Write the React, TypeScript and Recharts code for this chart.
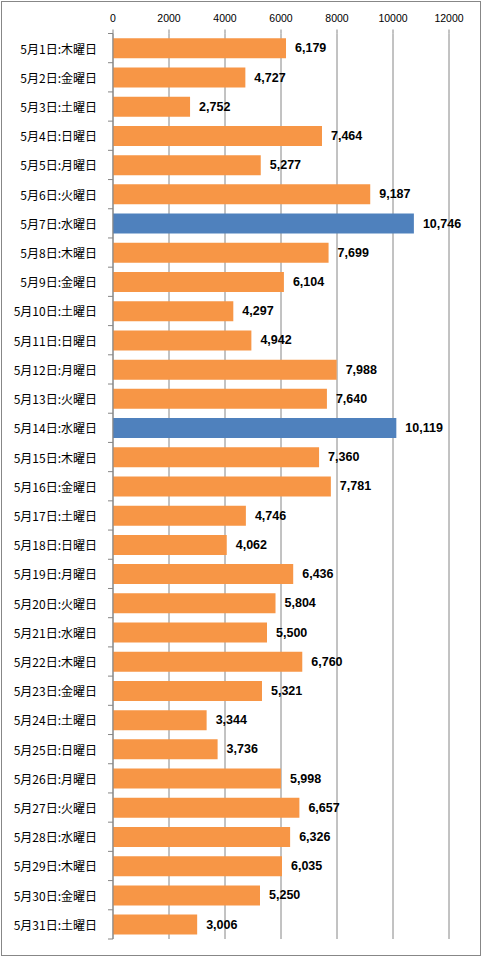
import React from 'react';
import { BarChart, Bar, XAxis, YAxis, CartesianGrid, Cell, LabelList } from 'recharts';

// 5月の日別件数
const days = [
    '5月1日:木曜日', '5月2日:金曜日', '5月3日:土曜日', '5月4日:日曜日', '5月5日:月曜日',
    '5月6日:火曜日', '5月7日:水曜日', '5月8日:木曜日', '5月9日:金曜日', '5月10日:土曜日',
    '5月11日:日曜日', '5月12日:月曜日', '5月13日:火曜日', '5月14日:水曜日', '5月15日:木曜日',
    '5月16日:金曜日', '5月17日:土曜日', '5月18日:日曜日', '5月19日:月曜日', '5月20日:火曜日',
    '5月21日:水曜日', '5月22日:木曜日', '5月23日:金曜日', '5月24日:土曜日', '5月25日:日曜日',
    '5月26日:月曜日', '5月27日:火曜日', '5月28日:水曜日', '5月29日:木曜日', '5月30日:金曜日',
    '5月31日:土曜日',
];

const counts = [
    6179, 4727, 2752, 7464, 5277, 9187, 10746, 7699, 6104, 4297,
    4942, 7988, 7640, 10119, 7360, 7781, 4746, 4062, 6436, 5804,
    5500, 6760, 5321, 3344, 3736, 5998, 6657, 6326, 6035, 5250,
    3006,
];

const highlightDays = ['5月7日:水曜日', '5月14日:水曜日'];

const xTicks = [0, 2000, 4000, 6000, 8000, 10000, 12000];

const W = 483;
const H = 957;
const TOP = 33.5;
const BOTTOM = 18;
const RIGHT = 34;
const YAXIS_W = 113;
const BAND = (H - TOP - BOTTOM) / days.length;

const ORANGE = '#F79646';
const BLUE = '#4F81BD';
const GRID = '#868686';

const data = days.map((day, i) => ({ day, count: counts[i] }));

const TopTick = (props: any) => {
    const { x, payload } = props;
    return (
        <text x={x} y={22} textAnchor="middle" fontSize={10.5} fontFamily="Liberation Sans, Arial, sans-serif" fill="#000">
            {payload.value}
        </text>
    );
};

const DayTick = (props: any) => {
    const { y, payload, index } = props;
    const isLast = index === days.length - 1;
    return (
        <g>
            <line x1={YAXIS_W - 5} x2={YAXIS_W} y1={y - BAND / 2} y2={y - BAND / 2} stroke={GRID} />
            {isLast && <line x1={YAXIS_W - 5} x2={YAXIS_W} y1={y + BAND / 2} y2={y + BAND / 2} stroke={GRID} />}
            <text x={97} y={y} textAnchor="end" dominantBaseline="central" fontSize={12}
                fontFamily="'Noto Sans CJK JP', sans-serif" fill="#000">
                {payload.value}
            </text>
        </g>
    );
};

const ValueLabel = (props: any) => {
    const { x, y, width, height, value } = props;
    return (
        <text x={x + width + 9} y={y + height / 2} dominantBaseline="central" fontSize={12.5} fontWeight="bold"
            fontFamily="Liberation Sans, Arial, sans-serif" fill="#000">
            {Number(value).toLocaleString('en-US')}
        </text>
    );
};

const App: React.FC = () => {
    return (
        <div style={{ position: 'absolute', left: 0, top: 0, width: W, height: H, background: '#fff' }}>
            <BarChart
                width={W}
                height={H}
                data={data}
                layout="vertical"
                margin={{ top: 0, right: RIGHT, bottom: BOTTOM, left: 0 }}
                barCategoryGap="16.5%"
            >
                <CartesianGrid horizontal={false} stroke={GRID} />
                <XAxis
                    type="number"
                    orientation="top"
                    domain={[0, 12000]}
                    ticks={xTicks}
                    interval={0}
                    height={TOP}
                    axisLine={false}
                    tickLine={{ stroke: GRID }}
                    tickSize={4}
                    tick={<TopTick />}
                />
                <YAxis
                    type="category"
                    dataKey="day"
                    width={YAXIS_W}
                    interval={0}
                    axisLine={{ stroke: GRID }}
                    tickLine={false}
                    tick={<DayTick />}
                />
                <Bar dataKey="count" isAnimationActive={false}>
                    {data.map((d) => (
                        <Cell key={d.day} fill={highlightDays.includes(d.day) ? BLUE : ORANGE} />
                    ))}
                    <LabelList dataKey="count" content={<ValueLabel />} />
                </Bar>
            </BarChart>
            <div style={{
                position: 'absolute', left: 1, top: 1, width: 480, height: 955,
                border: '1px solid #878787', boxSizing: 'border-box', pointerEvents: 'none',
            }} />
        </div>
    );
};

export default App;
